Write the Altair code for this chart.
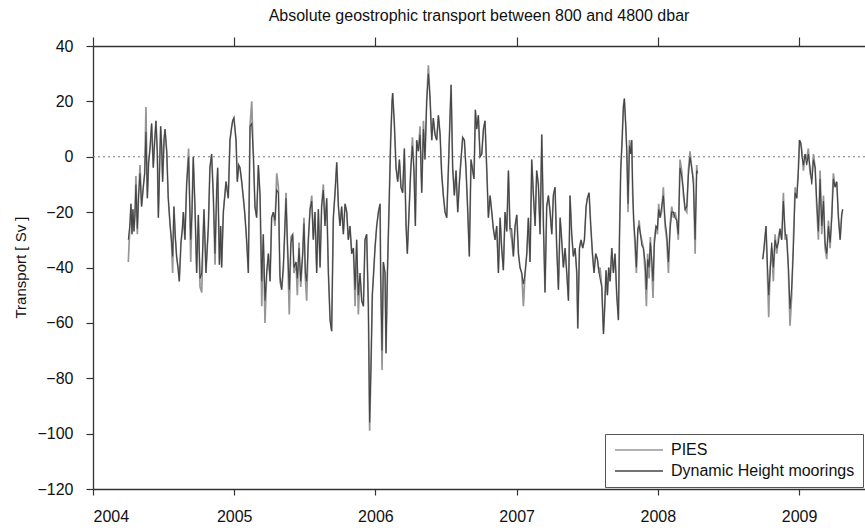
import altair as alt
import pandas as pd

# ---- Absolute geostrophic transport (Sv), 800-4800 dbar ----
# First deployment period
years_a = [
    2004.250, 2004.262, 2004.269, 2004.276, 2004.283, 2004.290, 2004.297, 2004.304, 2004.314, 2004.323,
    2004.333, 2004.344, 2004.356, 2004.366, 2004.375, 2004.385, 2004.394, 2004.404, 2004.415, 2004.427,
    2004.437, 2004.446, 2004.455, 2004.463, 2004.472, 2004.479, 2004.486, 2004.493, 2004.503, 2004.510,
    2004.522, 2004.533, 2004.545, 2004.555, 2004.564, 2004.573, 2004.583, 2004.592, 2004.602, 2004.611,
    2004.623, 2004.633, 2004.640, 2004.651, 2004.663, 2004.677, 2004.684, 2004.692, 2004.701, 2004.710,
    2004.722, 2004.734, 2004.746, 2004.758, 2004.770, 2004.779, 2004.786, 2004.800, 2004.817, 2004.828,
    2004.840, 2004.852, 2004.864, 2004.876, 2004.883, 2004.895, 2004.904, 2004.911, 2004.923, 2004.942,
    2004.958, 2004.970, 2004.980, 2004.989, 2004.998, 2005.013, 2005.022, 2005.032, 2005.041, 2005.053,
    2005.065, 2005.074, 2005.084, 2005.093, 2005.100, 2005.112, 2005.124, 2005.136, 2005.147, 2005.159,
    2005.171, 2005.183, 2005.195, 2005.206, 2005.218, 2005.230, 2005.242, 2005.254, 2005.265, 2005.277,
    2005.289, 2005.301, 2005.313, 2005.324, 2005.336, 2005.348, 2005.357, 2005.367, 2005.376, 2005.390,
    2005.402, 2005.414, 2005.423, 2005.438, 2005.447, 2005.459, 2005.471, 2005.485, 2005.494, 2005.504,
    2005.513, 2005.525, 2005.537, 2005.549, 2005.560, 2005.572, 2005.584, 2005.596, 2005.608, 2005.619,
    2005.631, 2005.643, 2005.655, 2005.667, 2005.679, 2005.690, 2005.702, 2005.714, 2005.726, 2005.738,
    2005.749, 2005.761, 2005.773, 2005.785, 2005.797, 2005.808, 2005.820, 2005.832, 2005.844, 2005.856,
    2005.867, 2005.879, 2005.891, 2005.903, 2005.915, 2005.926, 2005.938, 2005.950, 2005.959, 2005.969,
    2005.978, 2005.985, 2005.997, 2006.009, 2006.021, 2006.033, 2006.037, 2006.047, 2006.056, 2006.068,
    2006.075, 2006.085, 2006.099, 2006.108, 2006.118, 2006.122, 2006.134, 2006.146, 2006.158, 2006.170,
    2006.181, 2006.193, 2006.205, 2006.217, 2006.226, 2006.238, 2006.250, 2006.262, 2006.273, 2006.283,
    2006.292, 2006.304, 2006.316, 2006.328, 2006.340, 2006.351, 2006.363, 2006.375, 2006.387, 2006.399,
    2006.410, 2006.422, 2006.434, 2006.446, 2006.458, 2006.469, 2006.481, 2006.493, 2006.505, 2006.517,
    2006.528, 2006.536, 2006.547, 2006.559, 2006.571, 2006.583, 2006.595, 2006.606, 2006.618, 2006.630,
    2006.642, 2006.654, 2006.665, 2006.677, 2006.689, 2006.698, 2006.708, 2006.717, 2006.729, 2006.741,
    2006.753, 2006.765, 2006.776, 2006.788, 2006.800, 2006.812, 2006.824, 2006.835, 2006.847, 2006.859,
    2006.871, 2006.883, 2006.894, 2006.906, 2006.918, 2006.930, 2006.942, 2006.953, 2006.965, 2006.977,
    2006.989, 2007.001, 2007.013, 2007.024, 2007.036, 2007.048, 2007.060, 2007.072, 2007.083, 2007.095,
    2007.107, 2007.119, 2007.131, 2007.142, 2007.154, 2007.166, 2007.178, 2007.190, 2007.201, 2007.213,
    2007.225, 2007.237, 2007.249, 2007.260, 2007.272, 2007.284, 2007.296, 2007.308, 2007.319, 2007.331,
    2007.343, 2007.355, 2007.367, 2007.378, 2007.390, 2007.402, 2007.414, 2007.426, 2007.433, 2007.445,
    2007.456, 2007.468, 2007.480, 2007.492, 2007.501, 2007.513, 2007.525, 2007.537, 2007.548, 2007.560,
    2007.572, 2007.584, 2007.591, 2007.603, 2007.615, 2007.624, 2007.633, 2007.643, 2007.652, 2007.662,
    2007.674, 2007.685, 2007.697, 2007.709, 2007.721, 2007.728, 2007.737, 2007.747, 2007.756, 2007.763,
    2007.773, 2007.780, 2007.789, 2007.799, 2007.808, 2007.815, 2007.822, 2007.829, 2007.839, 2007.848,
    2007.858, 2007.867, 2007.877, 2007.886, 2007.898, 2007.910, 2007.919, 2007.928, 2007.938, 2007.947,
    2007.957, 2007.966, 2007.975, 2007.987, 2007.997, 2008.006, 2008.016, 2008.027, 2008.039, 2008.051,
    2008.063, 2008.075, 2008.086, 2008.098, 2008.110, 2008.122, 2008.134, 2008.145, 2008.157, 2008.169,
    2008.181, 2008.193, 2008.205, 2008.216, 2008.228, 2008.240, 2008.252, 2008.264, 2008.275, 2008.280,
]
pies_a = [
    -38, -24, -17, -28, -19, -27, -21, -7, -28, -14,
    -3, -18, -11, -6, 18, -15, -2, 3, 12, -4,
    6, 13, 2, -22, -2, 11, 4, -9, 6, 10,
    2, -15, -24, -30, -42, -18, -29, -36, -40, -45,
    -31, -26, -20, -30, -10, 3, -15, -38, -20, 0,
    -18, -42, -21, -47, -49, -30, -19, -42, -25, -4,
    1, -14, -39, -12, -4, -39, -25, -40, -20, -9,
    -15, 6, 10, 13, 14, 6, -9, -3, -4, -9,
    -15, -20, -27, -35, -42, 11, 20, 0, -18, -22,
    -3, -14, -54, -28, -60, -42, -35, -45, -22, -20,
    -25, -6, -11, -45, -48, -41, -28, -13, -30, -57,
    -29, -28, -42, -38, -50, -31, -47, -35, -22, -44,
    -52, -30, -19, -14, -30, -20, -42, -19, -40, -18,
    -10, -25, -15, -42, -59, -63, -22, -13, -2, -18,
    -25, -18, -28, -17, -20, -30, -25, -35, -33, -54,
    -30, -57, -42, -52, -54, -30, -28, -54, -99, -75,
    -50, -44, -33, -25, -20, -17, -42, -77, -38, -42,
    -71, -42, -13, 6, 20, 23, 12, -4, -9, -1,
    -11, -13, 3, -25, -35, -20, -5, 7, -5, -25,
    6, 2, 11, -13, 13, -1, 20, 33, 21, 6,
    14, 8, 6, 15, 8, -6, -14, -20, -22, -4,
    14, 26, -4, -14, -5, -20, -9, -1, 7, 6,
    -5, -20, -36, -1, -5, -8, 17, 10, 15, 0,
    1, 10, 13, -4, -22, -14, -20, -26, -30, -25,
    -42, -22, -33, -41, -20, -27, -5, -26, -30, -36,
    -25, -21, -35, -40, -42, -54, -42, -35, -22, -38,
    -1, -14, -25, -5, -10, -28, 8, -25, -49, -18,
    -14, -20, -28, -14, -11, -33, -48, -22, -30, -40,
    -33, -42, -52, -14, -28, -36, -33, -42, -62, -33,
    -30, -33, -30, -18, -15, -13, -25, -35, -42, -35,
    -37, -42, -40, -47, -64, -54, -41, -50, -40, -45,
    -33, -42, -35, -50, -59, -30, -5, 6, 18, 21,
    11, 2, -20, 6, 1, 6, -14, -23, -33, -42,
    -28, -23, -28, -30, -33, -42, -54, -35, -44, -29,
    -40, -51, -30, -25, -28, -17, -22, -20, -11, -25,
    -30, -42, -25, -18, -22, -20, -23, -30, -1, -5,
    -14, -19, -20, -5, 2, -4, -8, -35, -3, -6,
]
dh_a = [
    -30, -24, -17, -28, -19, -27, -21, -10, -26, -14,
    -6, -18, -11, -6, 9, -15, -2, 3, 12, -4,
    6, 13, 2, -22, -4, 11, 4, -9, 6, 10,
    2, -15, -24, -30, -36, -18, -29, -36, -40, -45,
    -31, -26, -20, -30, -10, 0, -15, -30, -20, 0,
    -18, -42, -21, -44, -42, -30, -19, -42, -25, -4,
    1, -14, -35, -12, -4, -39, -25, -40, -20, -9,
    -15, 6, 10, 13, 14, 6, -9, -3, -4, -9,
    -15, -20, -27, -35, -42, 11, 12, 0, -18, -22,
    -3, -14, -45, -28, -52, -42, -35, -45, -22, -20,
    -23, -12, -13, -43, -48, -39, -28, -15, -30, -48,
    -31, -28, -40, -38, -44, -33, -45, -35, -24, -42,
    -45, -30, -19, -16, -30, -20, -42, -19, -40, -18,
    -12, -25, -15, -42, -59, -63, -22, -13, -2, -18,
    -25, -18, -28, -17, -20, -30, -25, -35, -33, -48,
    -30, -50, -42, -52, -54, -30, -28, -54, -96, -75,
    -50, -44, -33, -25, -20, -17, -42, -70, -38, -42,
    -71, -42, -13, 6, 20, 23, 12, -4, -9, -1,
    -11, -13, 3, -25, -35, -20, -5, 4, -5, -25,
    6, 2, 8, -13, 10, -1, 20, 30, 21, 6,
    14, 8, 6, 15, 8, -6, -14, -20, -22, -4,
    14, 26, -4, -14, -5, -20, -9, -1, 7, 6,
    -5, -20, -36, -1, -5, -8, 17, 10, 15, 0,
    1, 10, 13, -4, -22, -14, -20, -26, -30, -25,
    -42, -22, -33, -41, -20, -27, -5, -26, -26, -36,
    -25, -21, -35, -40, -42, -46, -42, -35, -22, -38,
    -1, -14, -25, -5, -10, -28, 8, -25, -49, -18,
    -14, -20, -28, -14, -11, -33, -48, -22, -30, -40,
    -33, -42, -52, -14, -28, -36, -33, -42, -62, -33,
    -30, -33, -30, -18, -15, -13, -25, -35, -42, -35,
    -37, -42, -44, -47, -64, -54, -41, -50, -40, -45,
    -33, -42, -35, -50, -59, -30, -5, 6, 18, 21,
    11, 2, -17, 4, 1, 6, -12, -23, -30, -40,
    -26, -25, -28, -32, -33, -38, -48, -37, -40, -31,
    -37, -45, -32, -25, -26, -19, -22, -18, -14, -23,
    -28, -38, -27, -20, -20, -22, -23, -28, -4, -7,
    -12, -19, -18, -7, 0, -4, -10, -30, -5, -6,
]

# Second deployment period
years_b = [
    2008.743, 2008.752, 2008.766, 2008.776, 2008.785, 2008.795, 2008.806, 2008.818, 2008.830, 2008.842,
    2008.854, 2008.865, 2008.877, 2008.889, 2008.901, 2008.913, 2008.925, 2008.936, 2008.948, 2008.960,
    2008.972, 2008.984, 2008.995, 2009.003, 2009.012, 2009.021, 2009.031, 2009.043, 2009.054, 2009.066,
    2009.078, 2009.090, 2009.102, 2009.114, 2009.125, 2009.137, 2009.149, 2009.161, 2009.173, 2009.184,
    2009.196, 2009.208, 2009.220, 2009.232, 2009.243, 2009.255, 2009.267, 2009.279, 2009.291, 2009.302,
    2009.309,
]
pies_b = [
    -37, -33, -25, -42, -58, -40, -33, -45, -28, -35,
    -29, -26, -30, -13, -30, -28, -42, -61, -50, -30,
    -11, -15, -4, 6, 5, 2, -5, 1, -1, 3,
    -6, -8, 1, -4, -18, -30, -5, -28, -14, -33,
    -37, -23, -33, -20, -6, -11, -9, -22, -30, -21,
    -19,
]
dh_b = [
    -37, -33, -25, -39, -50, -42, -31, -40, -30, -33,
    -31, -26, -30, -16, -27, -30, -40, -55, -47, -33,
    -13, -15, -6, 6, 5, 0, -3, 1, -3, 1,
    -4, -10, -1, -4, -16, -27, -8, -25, -16, -31,
    -35, -25, -31, -22, -8, -11, -9, -22, -30, -21,
    -19,
]

assert len(years_a) == len(pies_a) == len(dh_a)
assert len(years_b) == len(pies_b) == len(dh_b)

series_names = ["PIES", "Dynamic Height moorings"]
series_colors = ["#969696", "#454545"]
year_ticks = [2004, 2005, 2006, 2007, 2008, 2009]
transport_ticks = [-120, -100, -80, -60, -40, -20, 0, 20, 40]

rows = []
for seg, yrs, p_vals, d_vals in [("a", years_a, pies_a, dh_a), ("b", years_b, pies_b, dh_b)]:
    for yr, v in zip(yrs, p_vals):
        rows.append({"year": yr, "transport": v, "series": "PIES", "segment": seg})
    for yr, v in zip(yrs, d_vals):
        rows.append({"year": yr, "transport": v, "series": "Dynamic Height moorings", "segment": seg})
df = pd.DataFrame(rows)

FONT = "Liberation Sans"
x_scale = alt.Scale(domain=[2004, 2009.467], nice=False, zero=False)
y_scale = alt.Scale(domain=[-120, 40], nice=False, zero=False)

y_axis = alt.Axis(
    values=transport_ticks, grid=False, tickSize=7, tickColor="#333", tickWidth=1.2,
    domainColor="#333", domainWidth=1.3, labelFont=FONT, labelFontSize=16, labelColor="#111",
    labelPadding=13, title="Transport [ Sv ]", titleFont=FONT, titleFontSize=15,
    titleFontWeight="normal", titleColor="#111", titleAngle=270, titleBaseline="middle",
    titleX=-73, titleY=221,
)
x_axis_bottom = alt.Axis(
    orient="bottom", values=year_ticks, format="d", grid=False, tickSize=6, tickColor="#333",
    tickWidth=1.2, domainColor="#333", domainWidth=1.3, labelFont=FONT, labelFontSize=16,
    labelColor="#111", labelPadding=13, title=None,
)
x_axis_top = alt.Axis(
    orient="top", values=year_ticks, grid=False, labels=False, tickSize=9, tickColor="#333",
    tickWidth=1.2, domainColor="#333", domainWidth=1.3, title=None,
)

# Legend swatch: a horizontal line path, shifted right so it starts at the box padding
color = alt.Color(
    "series:N",
    scale=alt.Scale(domain=series_names, range=series_colors),
    title=None,
    legend=alt.Legend(
        orient="none", legendX=512, legendY=388, symbolType="M-1,0H7", symbolSize=144,
        symbolStrokeWidth=1.5, labelFont=FONT, labelFontSize=16, labelColor="#111",
        labelOffset=42, padding=8, rowPadding=5, strokeColor="#555", fillColor="white",
        labelLimit=400,
    ),
)

pies_layer = alt.Chart(df).transform_filter(alt.datum.series == "PIES").mark_line(
    strokeWidth=1.7, clip=True
).encode(
    x=alt.X("year:Q", scale=x_scale, axis=x_axis_bottom),
    y=alt.Y("transport:Q", scale=y_scale, axis=y_axis),
    color=color,
    detail="segment:N",
)

dh_layer = alt.Chart(df).transform_filter(alt.datum.series == "Dynamic Height moorings").mark_line(
    strokeWidth=1.1, clip=True
).encode(
    x=alt.X("year:Q", scale=x_scale, axis=None),
    y=alt.Y("transport:Q", scale=y_scale, axis=y_axis),
    color=color,
    detail="segment:N",
)

zero_df = pd.DataFrame({"transport": [0]})
zero_line = alt.Chart(zero_df).mark_rule(
    color="#777", strokeDash=[2, 3], strokeWidth=1
).encode(y=alt.Y("transport:Q", scale=y_scale, axis=y_axis))

top_df = pd.DataFrame({"year": year_ticks})
top_axis = alt.Chart(top_df).mark_point(opacity=0).encode(
    x=alt.X("year:Q", scale=x_scale, axis=x_axis_top)
)

chart = alt.layer(zero_line, pies_layer, dh_layer, top_axis).resolve_axis(
    x="independent"
).properties(
    width=772,
    height=443,
    autosize=alt.AutoSizeParams(type="none"),
    padding={"left": 93, "top": 46, "right": 0, "bottom": 39},
    title=alt.TitleParams(
        text="Absolute geostrophic transport between 800 and 4800 dbar",
        font=FONT, fontSize=16, fontWeight="normal", color="#111",
        anchor="middle", offset=12,
    ),
).configure_view(strokeWidth=0).configure(background="white")

chart.save("out.html", embed_options={"renderer": "svg", "actions": False})
